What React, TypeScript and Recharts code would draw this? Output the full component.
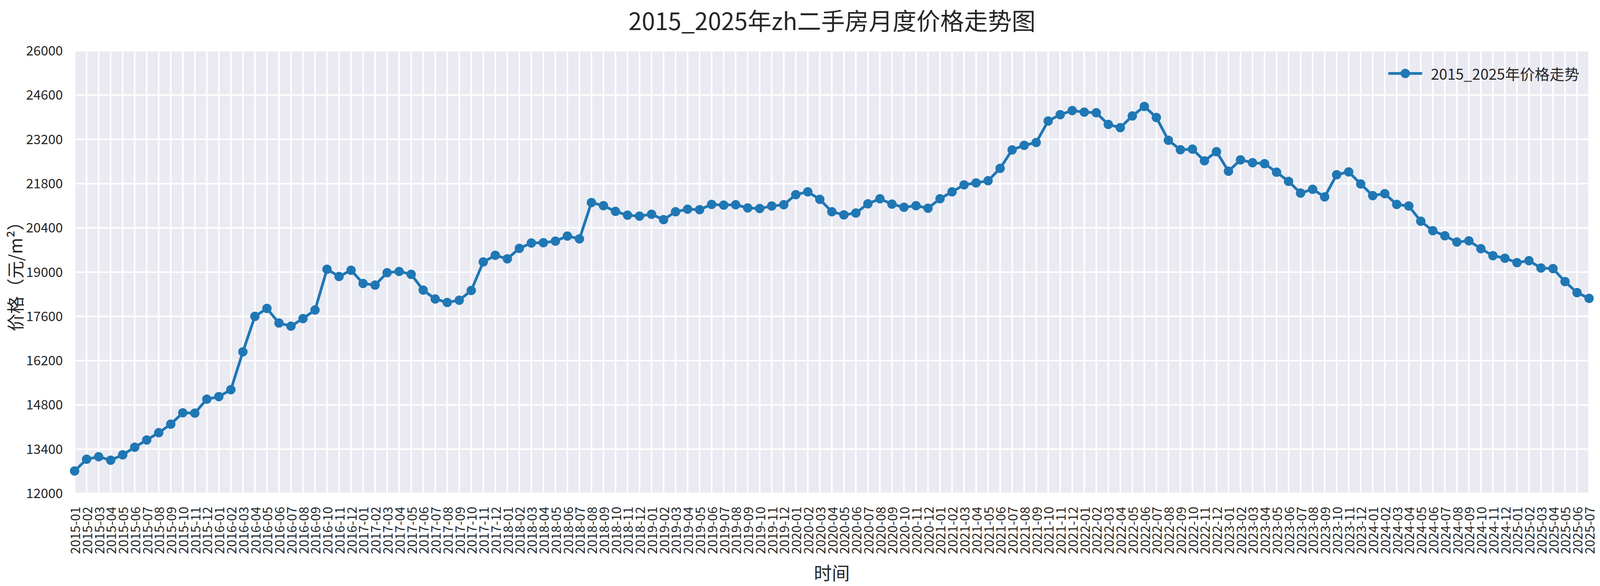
import {
  LineChart,
  Line,
  XAxis,
  YAxis,
  CartesianGrid,
  Legend,
} from 'recharts';

const months = [
  '2015-01', '2015-02', '2015-03', '2015-04', '2015-05', '2015-06', '2015-07', '2015-08', '2015-09', '2015-10', '2015-11', '2015-12',
  '2016-01', '2016-02', '2016-03', '2016-04', '2016-05', '2016-06', '2016-07', '2016-08', '2016-09', '2016-10', '2016-11', '2016-12',
  '2017-01', '2017-02', '2017-03', '2017-04', '2017-05', '2017-06', '2017-07', '2017-08', '2017-09', '2017-10', '2017-11', '2017-12',
  '2018-01', '2018-02', '2018-03', '2018-04', '2018-05', '2018-06', '2018-07', '2018-08', '2018-09', '2018-10', '2018-11', '2018-12',
  '2019-01', '2019-02', '2019-03', '2019-04', '2019-05', '2019-06', '2019-07', '2019-08', '2019-09', '2019-10', '2019-11', '2019-12',
  '2020-01', '2020-02', '2020-03', '2020-04', '2020-05', '2020-06', '2020-07', '2020-08', '2020-09', '2020-10', '2020-11', '2020-12',
  '2021-01', '2021-02', '2021-03', '2021-04', '2021-05', '2021-06', '2021-07', '2021-08', '2021-09', '2021-10', '2021-11', '2021-12',
  '2022-01', '2022-02', '2022-03', '2022-04', '2022-05', '2022-06', '2022-07', '2022-08', '2022-09', '2022-10', '2022-11', '2022-12',
  '2023-01', '2023-02', '2023-03', '2023-04', '2023-05', '2023-06', '2023-07', '2023-08', '2023-09', '2023-10', '2023-11', '2023-12',
  '2024-01', '2024-02', '2024-03', '2024-04', '2024-05', '2024-06', '2024-07', '2024-08', '2024-09', '2024-10', '2024-11', '2024-12',
  '2025-01', '2025-02', '2025-03', '2025-04', '2025-05', '2025-06', '2025-07',
];

// 元/m², one value per month above
const prices = [
  12710, 13080, 13160, 13050, 13220, 13460, 13690, 13920, 14190, 14550, 14540, 14980,
  15060, 15280, 16480, 17600, 17850, 17390, 17290, 17530, 17800, 19090, 18860, 19060,
  18640, 18590, 18980, 19020, 18930, 18430, 18150, 18040, 18110, 18420, 19320, 19530,
  19420, 19750, 19920, 19930, 19980, 20140, 20050, 21200, 21100, 20920, 20800, 20770,
  20830, 20660, 20910, 20990, 20975, 21140, 21120, 21130, 21030, 21010, 21090, 21130,
  21450, 21540, 21300, 20910, 20810, 20870, 21160, 21320, 21150, 21050, 21100, 21020,
  21320, 21540, 21760, 21820, 21890, 22280, 22865, 23010, 23100, 23780, 23980, 24110,
  24060, 24040, 23670, 23570, 23940, 24240, 23890, 23170, 22870, 22890, 22520, 22810,
  22190, 22550, 22460, 22430, 22160, 21870, 21500, 21620, 21380, 22080, 22170, 21790,
  21420, 21480, 21140, 21090, 20610, 20310, 20150, 19950, 19990, 19740, 19520, 19440,
  19300, 19360, 19130, 19110, 18700, 18350, 18170,
];

const yTicks = [12000, 13400, 14800, 16200, 17600, 19000, 20400, 21800, 23200, 24600, 26000];

const seriesName = '2015_2025年价格走势';
const chartTitle = '2015_2025年zh二手房月度价格走势图';

const rows = months.map((month, i) => ({ month, price: prices[i] }));

// the browser viewport is clamped to 4096px wide, so the 4500px layout is squeezed horizontally
const W = 4096;
const H = 1500;
const FONT = '"Noto Sans CJK SC", "Noto Sans", sans-serif';
const TEXT = '#262626';
const BLUE = '#1f77b4';

const MonthTick = ({ x, y, payload }: any) => (
  <text
    x={x}
    y={y}
    transform={`rotate(-90, ${x}, ${y})`}
    textAnchor="end"
    dominantBaseline="central"
    fontSize={33}
    fontFamily={FONT}
    fill={TEXT}
  >
    {payload.value}
  </text>
);

const renderLegend = () => (
  <div style={{ display: 'flex', alignItems: 'center', fontFamily: FONT }}>
    <svg width={88} height={30}>
      <line x1={4} y1={15} x2={85} y2={15} stroke={BLUE} strokeWidth={7} strokeLinecap="round" />
      <circle cx={44.5} cy={15} r={12} fill={BLUE} />
    </svg>
    <span style={{ marginLeft: 22, fontSize: 38, color: TEXT, lineHeight: 1 }}>{seriesName}</span>
  </div>
);

export default function App() {
  return (
    <div style={{ position: 'absolute', left: 0, top: 0, width: W, height: H, background: '#fff', fontFamily: FONT }}>
      <div
        style={{
          position: 'absolute',
          left: 2130,
          top: 50,
          transform: 'translate(-50%, -50%)',
          fontSize: 61,
          lineHeight: 1,
          color: TEXT,
          whiteSpace: 'nowrap',
        }}
      >
        {chartTitle}
      </div>
      <LineChart
        width={W}
        height={H}
        data={rows}
        margin={{ top: 130, right: 28, left: 0, bottom: 0 }}
      >
        <CartesianGrid stroke="#ffffff" strokeWidth={4} fill="#eaeaf2" />
        <XAxis
          dataKey="month"
          scale="point"
          interval={0}
          padding={{ left: 0, right: 0 }}
          height={237}
          tickLine={false}
          axisLine={false}
          tickSize={0}
          tickMargin={34}
          tick={<MonthTick />}
          label={{
            content: ({ viewBox }: any) => (
              <text
                x={viewBox.x + viewBox.width / 2}
                y={1464}
                textAnchor="middle"
                dominantBaseline="central"
                fontSize={46}
                fontFamily={FONT}
                fill={TEXT}
              >
                时间
              </text>
            ),
          }}
        />
        <YAxis
          domain={[12000, 26000]}
          ticks={yTicks}
          interval={0}
          width={191}
          tickLine={false}
          axisLine={false}
          tickSize={0}
          tickMargin={30}
          tick={{ fontSize: 34, fontFamily: FONT, fill: TEXT }}
          label={{
            content: ({ viewBox }: any) => {
              const cy = viewBox.y + viewBox.height / 2;
              return (
                <text
                  x={37}
                  y={cy}
                  transform={`rotate(-90, 37, ${cy})`}
                  textAnchor="middle"
                  dominantBaseline="central"
                  fontSize={45}
                  fontFamily={FONT}
                  fill={TEXT}
                >
                  价格（元/m²）
                </text>
              );
            },
          }}
        />
        <Legend
          layout="horizontal"
          verticalAlign="middle"
          align="center"
          content={renderLegend}
          wrapperStyle={{ left: 3553, top: 169, width: 'auto', height: 'auto' }}
        />
        <Line
          type="linear"
          dataKey="price"
          name={seriesName}
          stroke={BLUE}
          strokeWidth={7}
          dot={{ r: 12, fill: BLUE, stroke: BLUE, strokeWidth: 0 }}
          activeDot={false}
          isAnimationActive={false}
        />
      </LineChart>
    </div>
  );
}
